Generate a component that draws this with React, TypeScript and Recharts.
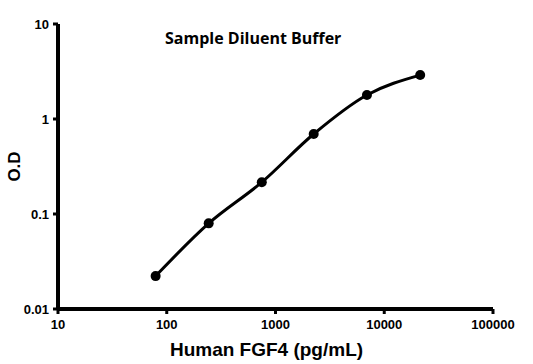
import { Label, Line, LineChart, ReferenceLine, XAxis, YAxis } from 'recharts';

// concentrations (pg/mL) and optical density readings
const concentration = [79, 243, 748, 2245, 6930, 21400];
const od = [0.0222, 0.0797, 0.216, 0.695, 1.79, 2.9];

const xTicks = [10, 100, 1000, 10000, 100000];
const yTicks = [0.01, 0.1, 1, 10];

const data = concentration.map((c, i) => ({ conc: c, od: od[i] }));

const font = '"Liberation Sans", Arial, sans-serif';
const tickStyle = { fill: '#000', fontSize: 13, fontWeight: 'bold', fontFamily: font };
const axisLine = { stroke: '#000', strokeWidth: 3 };

export default function App() {
  return (
    <div style={{ position: 'absolute', left: 0, top: 0, width: 533, height: 364, background: '#fff' }}>
      <style>{`
        .recharts-cartesian-axis line { stroke-width: 3px !important; stroke: #000 !important; }
      `}</style>
      <div
        style={{
          position: 'absolute', left: 165, top: 27, fontFamily: '"Open Sans", sans-serif',
          fontWeight: 'bold', fontSize: 16, color: '#000', whiteSpace: 'pre',
        }}
      >
        Sample Diluent Buffer
      </div>
      <LineChart width={533} height={364} data={data} margin={{ top: 24, right: 40, bottom: 0, left: 8 }}>
        <XAxis
          dataKey="conc"
          type="number"
          scale="log"
          domain={[10, 100000]}
          ticks={xTicks}
          allowDataOverflow
          interval={0}
          height={55}
          axisLine={axisLine}
          tickLine={axisLine}
          tickSize={5}
          tickMargin={6}
          tick={tickStyle}
        >
          <Label
            value="Human FGF4 (pg/mL)"
            position="insideBottom"
            offset={8}
            dx={-9}
            style={{ fill: '#000', fontSize: 19, fontWeight: 'bold', fontFamily: font }}
          />
        </XAxis>
        <YAxis
          dataKey="od"
          type="number"
          scale="log"
          domain={[0.01, 10]}
          ticks={yTicks}
          allowDataOverflow
          interval={0}
          width={50}
          axisLine={axisLine}
          tickLine={axisLine}
          tickSize={5}
          tickMargin={4}
          tick={tickStyle}
        >
          <Label
            value="O.D"
            angle={-90}
            position="insideLeft"
            offset={6}
            style={{ fill: '#000', fontSize: 17, fontWeight: 'bold', fontFamily: font, textAnchor: 'middle' }}
          />
        </YAxis>
        <ReferenceLine x={10} stroke="#000" strokeWidth={4} ifOverflow="visible" />
        <ReferenceLine y={0.01} stroke="#000" strokeWidth={4} ifOverflow="visible" />
        <Line
          type="monotone"
          dataKey="od"
          stroke="#000"
          strokeWidth={3}
          dot={{ r: 5, fill: '#000', stroke: '#000', strokeWidth: 0 }}
          isAnimationActive={false}
        />
      </LineChart>
    </div>
  );
}
